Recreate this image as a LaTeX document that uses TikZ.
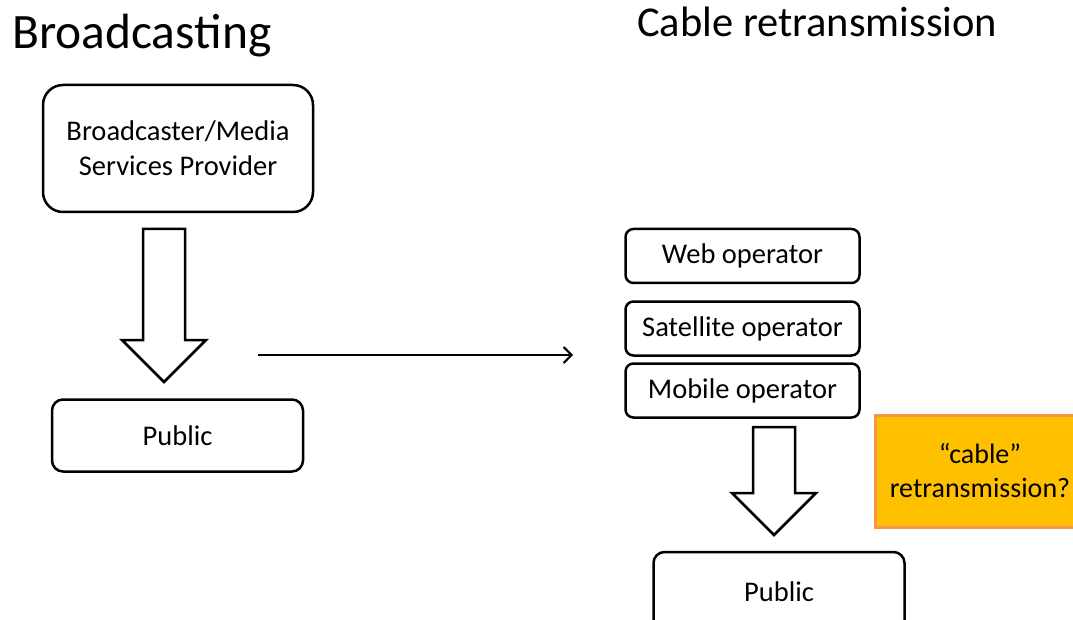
\documentclass[tikz,border=0pt]{standalone}
\usepackage{fontspec}
\setmainfont{Carlito}
\usetikzlibrary{arrows.meta,calc}

\definecolor{goldfill}{RGB}{255,192,0}
\definecolor{goldline}{RGB}{247,150,70}

\tikzset{
  box/.style={draw, line width=2.5pt, align=center, inner sep=0pt,
    font=\fontsize{28.5}{35}\selectfont},
  opbox/.style={box, rounded corners=8pt, minimum width=234pt, minimum height=54pt},
  pubbox/.style={box, rounded corners=11pt, minimum width=251pt, minimum height=72pt},
  hollow/.style={draw, line width=2.5pt, fill=white, line join=miter},
  note/.style={draw=goldline, fill=goldfill, line width=3pt, align=center,
    font=\fontsize{28}{34}\selectfont, minimum width=210pt, minimum height=112pt}
}

% hollow block arrow: #1 top centre, #2 tip
\newcommand{\hollowdown}[2]{%
  \draw[hollow] ($(#1)+(-21,0)$) -- ($(#1)+(21,0)$) -- ($(#2)+(21,-42)$)
    -- ($(#2)+(42,-42)$) -- (#2) -- ($(#2)+(-42,-42)$) -- ($(#2)+(-21,-42)$) -- cycle;}

\begin{document}
\begin{tikzpicture}[x=1pt, y=-1pt]
    \useasboundingbox (0,0) rectangle (1073,620);
    \clip (0,0) rectangle (1073,620);

    % Broadcasting
    \node[anchor=base west, inner sep=0pt, font=\fontsize{49.5}{56}\selectfont] (ttlb) at (12,49) {Broadcasting};
    \node[box, rounded corners=20pt, minimum width=270pt, minimum height=127pt] (bsp) at (178,148.5) {Broadcaster/Media\\Services Provider};
    \node[pubbox] (publ) at (177.5,435.5) {Public};
    \coordinate (la) at (164,229);
    \coordinate (lb) at (164,382);
    \hollowdown{la}{lb}

    % link between the two cases
    \coordinate (ls) at (258,355);
    \coordinate (le) at (573,355);
    \draw[-{Straight Barb[length=8pt,width=16pt]}, line width=2pt] (ls) -- (le);

    % Cable retransmission
    \node[anchor=base west, inner sep=0pt, font=\fontsize{42.5}{48}\selectfont] (ttlc) at (637,37) {Cable retransmission};
    \node[opbox] (web) at (742.5,256) {Web operator};
    \node[opbox] (sat) at (742.5,328.5) {Satellite operator};
    \node[opbox] (mob) at (742.5,390.5) {Mobile operator};
    \coordinate (ra) at (774,427);
    \coordinate (rb) at (774,535);
    \hollowdown{ra}{rb}
    \node[pubbox, minimum height=80pt] (pubr) at (779,592) {Public};
    \node[note] (cab) at (980,471) {“cable”\\retransmission?};
\end{tikzpicture}
\end{document}
